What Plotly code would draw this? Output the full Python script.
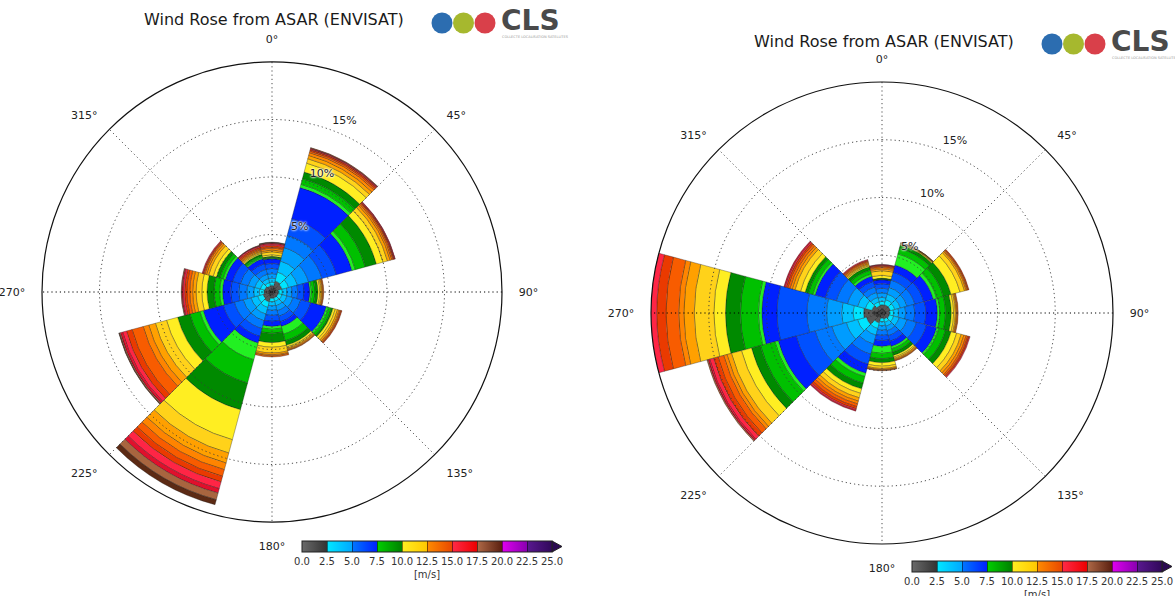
import numpy as np
import plotly.graph_objects as go

W, H = 1175, 596

# ---------------- data ----------------
directions = [0, 30, 60, 90, 120, 150, 180, 210, 240, 270, 300, 330]
speed_bins = [f"{i}-{i+1} m/s" for i in range(21)]
bin_colors = ['#383838', '#575757', '#00e5ff', '#00c0ff', '#009cff', '#0078ff', '#0050ff',
              '#0020ff', '#22f022', '#00c000', '#008a00', '#ffee22', '#ffd21a', '#ffa000',
              '#ff8400', '#f85c00', '#ea3a00', '#ff2545', '#e0102c', '#a8653f', '#5c2a14']

# frequency (%) per 1 m/s speed bin, one list per direction sector -- left rose
left_000 = [0.25, 0.3, 0.3, 0.35, 0.4, 0.45, 0.45, 0.4, 0.05, 0.07, 0.08, 0.15, 0.25, 0.15, 0.15, 0.1, 0.15, 0.12, 0.08, 0.05, 0.03]
left_030 = [0.45, 0.55, 0.8, 1.0, 1.2, 1.1, 1.5, 2.8, 0.3, 0.5, 0.6, 0.8, 0.4, 0.3, 0.25, 0.15, 0.12, 0.08, 0.05, 0.05]
left_060 = [0.4, 0.5, 0.6, 0.8, 1.0, 1.2, 1.3, 1.4, 0.3, 0.9, 1.0, 0.6, 0.4, 0.25, 0.15, 0.12, 0.08, 0.06, 0.04]
left_090 = [0.25, 0.3, 0.35, 0.4, 0.45, 0.5, 0.55, 0.5, 0.15, 0.3, 0.25, 0.15, 0.12, 0.1, 0.07, 0.06]
left_120 = [0.25, 0.3, 0.35, 0.45, 0.55, 0.7, 0.9, 1.4, 0.2, 0.25, 0.15, 0.2, 0.2, 0.15, 0.1, 0.08, 0.07]
left_150 = [0.25, 0.3, 0.3, 0.4, 0.45, 0.5, 0.5, 0.4, 0.7, 0.6, 0.4, 0.15, 0.12, 0.1, 0.08, 0.05]
left_180 = [0.25, 0.3, 0.3, 0.35, 0.4, 0.45, 0.5, 0.45, 0.25, 0.35, 0.8, 0.4, 0.5, 0.15, 0.1, 0.1]
left_210 = [0.4, 0.5, 0.5, 0.6, 0.6, 0.7, 0.7, 0.6, 1.5, 2.1, 2.4, 2.7, 1.2, 0.9, 0.6, 0.6, 0.5, 0.6, 0.4, 0.6, 0.45]
left_240 = [0.35, 0.45, 0.5, 0.6, 0.7, 0.8, 1.0, 1.8, 0.3, 0.9, 1.1, 1.0, 1.0, 0.6, 0.5, 1.0, 0.5, 0.35, 0.2, 0.1, 0.05]
left_270 = [0.3, 0.4, 0.4, 0.5, 0.6, 0.7, 0.7, 0.7, 0.25, 0.5, 0.6, 0.45, 0.5, 0.3, 0.25, 0.25, 0.2, 0.15, 0.1, 0.05]
left_300 = [0.3, 0.35, 0.4, 0.5, 0.6, 0.7, 0.7, 0.65, 0.2, 0.3, 0.3, 0.3, 0.4, 0.2, 0.15, 0.1, 0.08, 0.07]
left_330 = [0.25, 0.3, 0.3, 0.35, 0.4, 0.45, 0.5, 0.45, 0.1, 0.15, 0.15, 0.1, 0.1, 0.1, 0.1, 0.1, 0.12, 0.1, 0.05, 0.03]

# right rose
right_000 = [0.35, 0.35, 0.3, 0.35, 0.4, 0.4, 0.4, 0.35, 0.03, 0.04, 0.05, 0.25, 0.4, 0.15, 0.12, 0.1, 0.08, 0.05, 0.03]
right_030 = [0.35, 0.4, 0.45, 0.5, 0.6, 0.65, 0.7, 0.65, 1.0, 0.5, 0.3, 0.07, 0.05, 0.04, 0.03, 0.01]
right_060 = [0.35, 0.4, 0.4, 0.5, 0.6, 0.7, 0.8, 0.85, 0.3, 0.6, 0.7, 0.8, 0.4, 0.15, 0.1, 0.08, 0.07]
right_090 = [0.3, 0.35, 0.35, 0.45, 0.6, 0.8, 0.95, 1.0, 0.2, 0.5, 0.5, 0.2, 0.15, 0.1, 0.08, 0.07]
right_120 = [0.3, 0.35, 0.4, 0.5, 0.7, 0.85, 0.9, 0.9, 0.2, 0.6, 0.5, 0.5, 0.4, 0.25, 0.2, 0.15, 0.12, 0.08]
right_150 = [0.25, 0.3, 0.3, 0.35, 0.4, 0.45, 0.5, 0.45, 0.2, 0.3, 0.3, 0.15, 0.12, 0.1, 0.08, 0.05]
right_180 = [0.2, 0.25, 0.3, 0.35, 0.4, 0.45, 0.45, 0.5, 0.6, 0.45, 0.35, 0.3, 0.2, 0.1, 0.06, 0.04]
right_210 = [0.4, 0.5, 0.5, 0.6, 0.8, 0.9, 0.9, 0.8, 0.3, 0.6, 0.5, 0.4, 0.4, 0.3, 0.25, 0.25, 0.2, 0.12, 0.08]
right_240 = [0.6, 0.8, 0.8, 1.0, 1.3, 1.5, 1.7, 1.6, 0.3, 1.3, 0.8, 0.9, 0.9, 0.4, 0.3, 0.5, 0.4, 0.35, 0.15, 0.1]
right_270 = [0.7, 0.9, 0.9, 1.0, 1.3, 1.7, 2.6, 1.3, 0.3, 1.55, 1.3, 1.0, 1.7, 0.9, 0.45, 1.1, 0.8, 0.55, 0.1]
right_300 = [0.4, 0.5, 0.6, 0.7, 0.9, 1.0, 1.0, 0.9, 0.2, 0.4, 0.3, 0.4, 0.5, 0.25, 0.2, 0.2, 0.15, 0.12, 0.08]
right_330 = [0.3, 0.35, 0.35, 0.4, 0.45, 0.5, 0.5, 0.45, 0.2, 0.35, 0.3, 0.1, 0.1, 0.1, 0.1, 0.1, 0.08, 0.07]

left_sectors = [left_000, left_030, left_060, left_090, left_120, left_150,
                left_180, left_210, left_240, left_270, left_300, left_330]
right_sectors = [right_000, right_030, right_060, right_090, right_120, right_150,
                 right_180, right_210, right_240, right_270, right_300, right_330]

ring_values = [5, 10, 15]
ring_labels = ["5%", "10%", "15%"]
angle_ticks = [0, 45, 90, 135, 180, 225, 270, 315]
cbar_ticks = [0, 2.5, 5, 7.5, 10, 12.5, 15, 17.5, 20, 22.5, 25]
title_text = "Wind Rose from ASAR (ENVISAT)"

# colour bar colour blocks (each 2.5 m/s block is a small gradient)
cbar_blocks = [('#6a6a6a', '#333333'), ('#00e8ff', '#00a8ff'), ('#0078ff', '#0020ff'),
               ('#00d000', '#008000'), ('#ffee22', '#ffc800'), ('#ff8c00', '#e84800'),
               ('#ff2a48', '#ee0000'), ('#b06a48', '#5a2010'), ('#e000f0', '#8a00b0'),
               ('#5a1890', '#30085a')]

# ---------------- figure ----------------
def px(x):
    return x / W

def py(y):
    return 1 - y / H

def to_matrix(sectors):
    nb = len(speed_bins)
    m = np.zeros((nb, len(sectors)))
    for j, s in enumerate(sectors):
        m[:len(s), j] = s
    return m

fig = go.Figure()
FONT = "DejaVu Sans"
DOT = '1.2px,3px'

for pname, sectors in (("polar", left_sectors), ("polar2", right_sectors)):
    mat = to_matrix(sectors)
    for i in range(len(speed_bins)):
        fig.add_trace(go.Barpolar(
            r=mat[i], theta=directions, width=30, subplot=pname,
            marker=dict(color=bin_colors[i], line=dict(color='rgba(25,25,25,0.55)', width=0.6)),
            name=speed_bins[i], showlegend=False, hoverinfo='skip'))
    # dotted rings on top of bars
    th = np.linspace(0, 360, 361)
    for rv in ring_values:
        fig.add_trace(go.Scatterpolar(
            r=[rv] * len(th), theta=th, mode='lines', subplot=pname,
            line=dict(color='rgba(60,60,60,0.9)', width=1, dash=DOT),
            showlegend=False, hoverinfo='skip'))
    # dotted spokes
    for a in angle_ticks[:4]:
        col = 'rgba(0,0,0,1)' if a == 90 else 'rgba(60,60,60,0.9)'
        fig.add_trace(go.Scatterpolar(
            r=[20, 0, 20], theta=[a, a, a + 180], mode='lines', subplot=pname,
            line=dict(color=col, width=1, dash=DOT),
            showlegend=False, hoverinfo='skip'))
    # radial labels
    fig.add_trace(go.Scatterpolar(
        r=[v + 1.15 for v in ring_values], theta=[23] * len(ring_values),
        mode='text', text=ring_labels, subplot=pname,
        textfont=dict(family=FONT, size=11, color='#222',
                      shadow='0px 0px 2px #fff, 0px 0px 2px #fff, 0px 0px 3px #fff'),
        showlegend=False, hoverinfo='skip'))

# colour scale for the colour bars
cscale = []
for k, (c0, c1) in enumerate(cbar_blocks):
    cscale.append([k / len(cbar_blocks), c0])
    cscale.append([(k + 1) / len(cbar_blocks), c1])


def cbar_trace(xc, ytop):
    return go.Scatter(
        x=[0, 0], y=[0, 0], mode='markers', xaxis='x', yaxis='y',
        marker=dict(size=1, opacity=0, color=[cbar_ticks[0], cbar_ticks[-1]],
                    colorscale=cscale, cmin=cbar_ticks[0], cmax=cbar_ticks[-1],
                    showscale=True,
                    colorbar=dict(orientation='h', x=xc, xanchor='center', y=ytop,
                                  yanchor='top', len=250, lenmode='pixels', thickness=11,
                                  thicknessmode='pixels', outlinewidth=1, outlinecolor='#222',
                                  xpad=0, ypad=0,
                                  tickvals=cbar_ticks, ticktext=[f"{t:.1f}" for t in cbar_ticks],
                                  ticks='inside', ticklen=11, tickwidth=1,
                                  tickcolor='rgba(0,0,0,0.5)',
                                  tickfont=dict(family=FONT, size=10, color='#333'),
                                  title=dict(text='[m/s]', side='bottom',
                                             font=dict(family=FONT, size=10, color='#333')))),
        showlegend=False, hoverinfo='skip')


fig.add_trace(cbar_trace(px(427), py(541)))
fig.add_trace(cbar_trace(px(1037), py(561)))


def polar_layout(x0, x1, y0, y1):
    return dict(
        domain=dict(x=[px(x0), px(x1)], y=[py(y1), py(y0)]),
        bgcolor='white', barmode='stack', hole=0,
        radialaxis=dict(range=[0, 20], showgrid=False, showticklabels=False,
                        showline=False, ticks=''),
        angularaxis=dict(rotation=90, direction='clockwise', tickmode='array',
                         tickvals=angle_ticks, ticktext=[f"{a}°" for a in angle_ticks],
                         showgrid=False, showline=True, linecolor='#111', linewidth=1.2,
                         ticks='outside', ticklen=14, tickcolor='rgba(0,0,0,0)',
                         tickfont=dict(family=FONT, size=11, color='#222')))


shapes = []
annotations = []
for (cx, cy, title_x, title_y, logo_x, logo_y, cb_x1, cb_y0, cb_y1) in (
        (272, 292, 274, 20, 442, 23, 552, 541, 552),
        (882, 313, 884, 42, 1052, 44, 1162, 561, 572)):
    annotations.append(dict(x=px(title_x), y=py(title_y), xref='paper', yref='paper',
                            text=title_text, showarrow=False, xanchor='center', yanchor='middle',
                            font=dict(family=FONT, size=16, color='#1a1a1a')))
    # colour bar extension arrow
    shapes.append(dict(type='path', xref='paper', yref='paper',
                       path=f"M {px(cb_x1)},{py(cb_y0)} L {px(cb_x1 + 10)},{py((cb_y0 + cb_y1) / 2)} L {px(cb_x1)},{py(cb_y1)} Z",
                       fillcolor='#2a0a50', line=dict(color='#222', width=1)))
    # logo
    for k, col in enumerate(['#2c6db0', '#a6b82e', '#d9404a']):
        lx = logo_x + 21.5 * k
        shapes.append(dict(type='circle', xref='paper', yref='paper',
                           x0=px(lx - 10.5), x1=px(lx + 10.5), y0=py(logo_y + 10.5), y1=py(logo_y - 10.5),
                           fillcolor=col, line=dict(color=col, width=0)))
    annotations.append(dict(x=px(logo_x + 57), y=py(logo_y - 2), xref='paper', yref='paper',
                            text='<b>CLS</b>', showarrow=False, xanchor='left', yanchor='middle',
                            font=dict(family=FONT, size=28, color='#4a4a4a')))
    annotations.append(dict(x=px(logo_x + 58), y=py(logo_y + 14), xref='paper', yref='paper',
                            text='COLLECTE LOCALISATION SATELLITES', showarrow=False,
                            xanchor='left', yanchor='middle',
                            font=dict(family=FONT, size=3.5, color='#999')))

fig.update_layout(
    width=W, height=H, margin=dict(l=0, r=0, t=0, b=0, autoexpand=False),
    paper_bgcolor='white', plot_bgcolor='white',
    polar=polar_layout(42, 502, 62, 522),
    polar2=polar_layout(651, 1113, 82, 544),
    xaxis=dict(visible=False, domain=[0, 0.001]),
    yaxis=dict(visible=False, domain=[0, 0.001]),
    shapes=shapes, annotations=annotations, showlegend=False,
)

fig.write_html("out.html", config={'displayModeBar': False},
               post_script="document.body.style.margin='0';document.body.style.padding='0';"
                           "document.body.style.overflow='hidden';")
